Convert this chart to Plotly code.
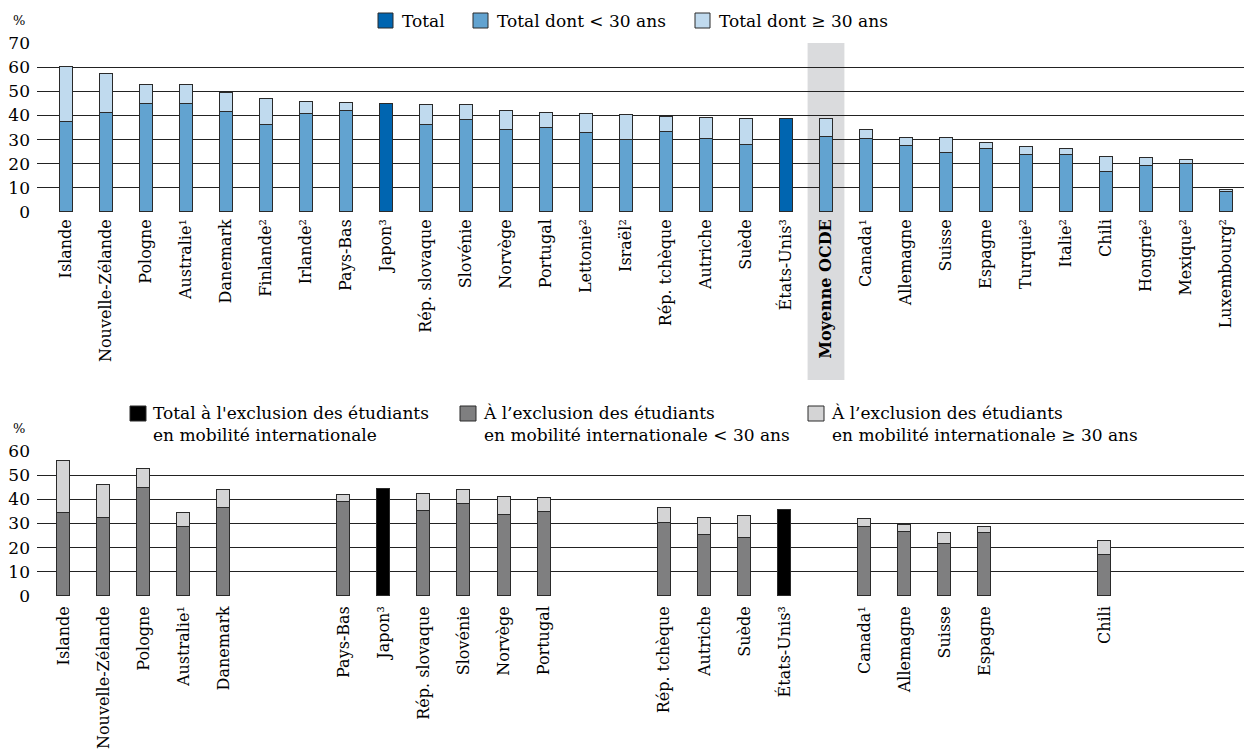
import plotly.graph_objects as go

countries = ["Islande", "Nouvelle-Zélande", "Pologne", "Australie¹", "Danemark", "Finlande²",
             "Irlande²", "Pays-Bas", "Japon³", "Rép. slovaque", "Slovénie", "Norvège", "Portugal",
             "Lettonie²", "Israël²", "Rép. tchèque", "Autriche", "Suède", "États-Unis³",
             "Moyenne OCDE", "Canada¹", "Allemagne", "Suisse", "Espagne", "Turquie²", "Italie²",
             "Chili", "Hongrie²", "Mexique²", "Luxembourg²"]

# Top panel: total entry rates and part below 30
top_total = [60.0, 57.3, 52.6, 52.6, 49.3, 46.8, 45.6, 45.2, 44.9, 44.2, 44.3, 41.7, 40.9,
             40.4, 40.2, 39.4, 38.8, 38.5, 38.5, 38.4, 33.8, 30.5, 30.5, 28.7, 27.1, 25.9,
             22.9, 22.4, 21.4, 9.1]
top_under30 = [37.3, 41.1, 44.6, 44.7, 41.3, 36.2, 40.6, 41.7, None, 36.0, 38.1, 34.0, 34.8,
               32.7, 29.8, 33.0, 30.1, 27.9, None, 31.2, 30.4, 27.5, 24.3, 26.1, 23.6, 23.6,
               16.6, 18.9, 19.7, 8.3]

# Bottom panel: excluding international students
bot_total = [56.0, 46.1, 52.4, 34.5, 43.7, None, None, 41.9, 44.1, 42.3, 43.9, 41.1, 40.4,
             None, None, 36.4, 32.4, 33.2, 35.5, None, 31.9, 29.2, 26.2, 28.7, None, None,
             22.9, None, None, None]
bot_under30 = [34.5, 32.3, 44.6, 28.5, 36.5, None, None, 38.8, None, 35.3, 37.9, 33.6, 34.6,
               None, None, 30.2, 25.1, 24.0, None, None, 28.7, 26.5, 21.5, 26.1, None, None,
               16.8, None, None, None]

bot_labels = [c for c, t in zip(countries, bot_total) if t is not None]
top_ticktext = ["<b>" + c + "</b>" if c == "Moyenne OCDE" else c for c in countries]

FONT = "DejaVu Serif"
OFF = 8                      # page body margin
W, H = 1252 - OFF, 752 - OFF
OUT = "#2a2a2a"


def split(total, under):
    u = list(under)
    o = [(t - x) if (t is not None and x is not None) else None for t, x in zip(total, under)]
    tot = [t if (t is not None and x is None) else None for t, x in zip(total, under)]
    return u, o, tot


fig = go.Figure()
tu, to, tt = split(top_total, top_under30)
bu, bo, bt = split(bot_total, bot_under30)

bw = 0.325
for y, col in [(tu, "#62a3d0"), (to, "#c0daee"), (tt, "#0065b0")]:
    fig.add_trace(go.Bar(x=countries, y=y, marker=dict(color=col, line=dict(color=OUT, width=1)),
                         width=bw, xaxis="x", yaxis="y", showlegend=False))
for y, col in [(bu, "#7f7f80"), (bo, "#d4d4d5"), (bt, "#000000")]:
    fig.add_trace(go.Bar(x=countries, y=y, marker=dict(color=col, line=dict(color=OUT, width=1)),
                         width=bw, xaxis="x2", yaxis="y2", showlegend=False))


def px(x):
    return (x - OFF) / W


def py(y):
    return 1 - (y - OFF) / H


axis_common = dict(type="category", categoryorder="array", categoryarray=countries,
                   tickangle=-90, showgrid=False, zeroline=False, showline=False,
                   automargin=False, ticks="",
                   tickfont=dict(family=FONT, size=16, color="black"))
yaxis_common = dict(dtick=10, showgrid=True, gridcolor="#222", gridwidth=1, zeroline=False,
                    showline=False, ticks="", automargin=False, ticklabelstandoff=6,
                    tickfont=dict(family=FONT, size=17, color="black"))

fig.update_layout(
    width=W, height=H, barmode="stack", bargap=0,
    margin=dict(l=0, r=0, t=0, b=0, autoexpand=False),
    paper_bgcolor="white", plot_bgcolor="rgba(0,0,0,0)",
    font=dict(family=FONT, color="black"),
    xaxis=dict(axis_common, domain=[px(37), 1], range=[-0.725, 29.65], anchor="y",
               tickvals=countries, ticktext=top_ticktext, ticklabelstandoff=3),
    yaxis=dict(yaxis_common, domain=[py(212), py(43)], range=[0, 70], anchor="x"),
    xaxis2=dict(axis_common, domain=[px(37), 1], range=[-0.657, 29.67], anchor="y2",
                tickvals=bot_labels, ticktext=bot_labels, ticklabelstandoff=6),
    yaxis2=dict(yaxis_common, domain=[py(596), py(451)], range=[0, 60], anchor="x2"),
)

# grey band behind OECD average
mi = countries.index("Moyenne OCDE")
fig.add_shape(type="rect", xref="x", yref="paper", x0=mi - 0.46, x1=mi + 0.46,
              y0=py(380), y1=py(43), fillcolor="#dadbdd", line=dict(width=0), layer="below")

# % labels
for yy in (21, 428):
    fig.add_annotation(x=px(19), y=py(yy), xref="paper", yref="paper", text="%",
                       xanchor="center", yanchor="middle", showarrow=False,
                       font=dict(family=FONT, size=13, color="black"))

# Top legend
for x0, col, txt in [(378, "#0065b0", "Total"), (473, "#62a3d0", "Total dont < 30 ans"),
                     (695, "#c0daee", "Total dont ≥ 30 ans")]:
    fig.add_shape(type="rect", xref="paper", yref="paper", x0=px(x0), x1=px(x0 + 15),
                  y0=py(28), y1=py(13), fillcolor=col, line=dict(color=OUT, width=1))
    fig.add_annotation(x=px(x0 + 22), y=py(21), xref="paper", yref="paper", text=txt,
                       xanchor="left", yanchor="middle", showarrow=False,
                       font=dict(family=FONT, size=17, color="black"))

# Bottom legend
for x0, col, txt in [(130, "#000000", "Total à l'exclusion des étudiants<br>en mobilité internationale"),
                     (460, "#7f7f80", "À l’exclusion des étudiants<br>en mobilité internationale < 30 ans"),
                     (808, "#d4d4d5", "À l’exclusion des étudiants<br>en mobilité internationale ≥ 30 ans")]:
    fig.add_shape(type="rect", xref="paper", yref="paper", x0=px(x0), x1=px(x0 + 16),
                  y0=py(421), y1=py(406), fillcolor=col, line=dict(color=OUT, width=1))
    fig.add_annotation(x=px(x0 + 21), y=py(401), xref="paper", yref="paper", text=txt,
                       xanchor="left", yanchor="top", align="left", showarrow=False,
                       font=dict(family=FONT, size=17, color="black"))

fig.write_html("out.html")
